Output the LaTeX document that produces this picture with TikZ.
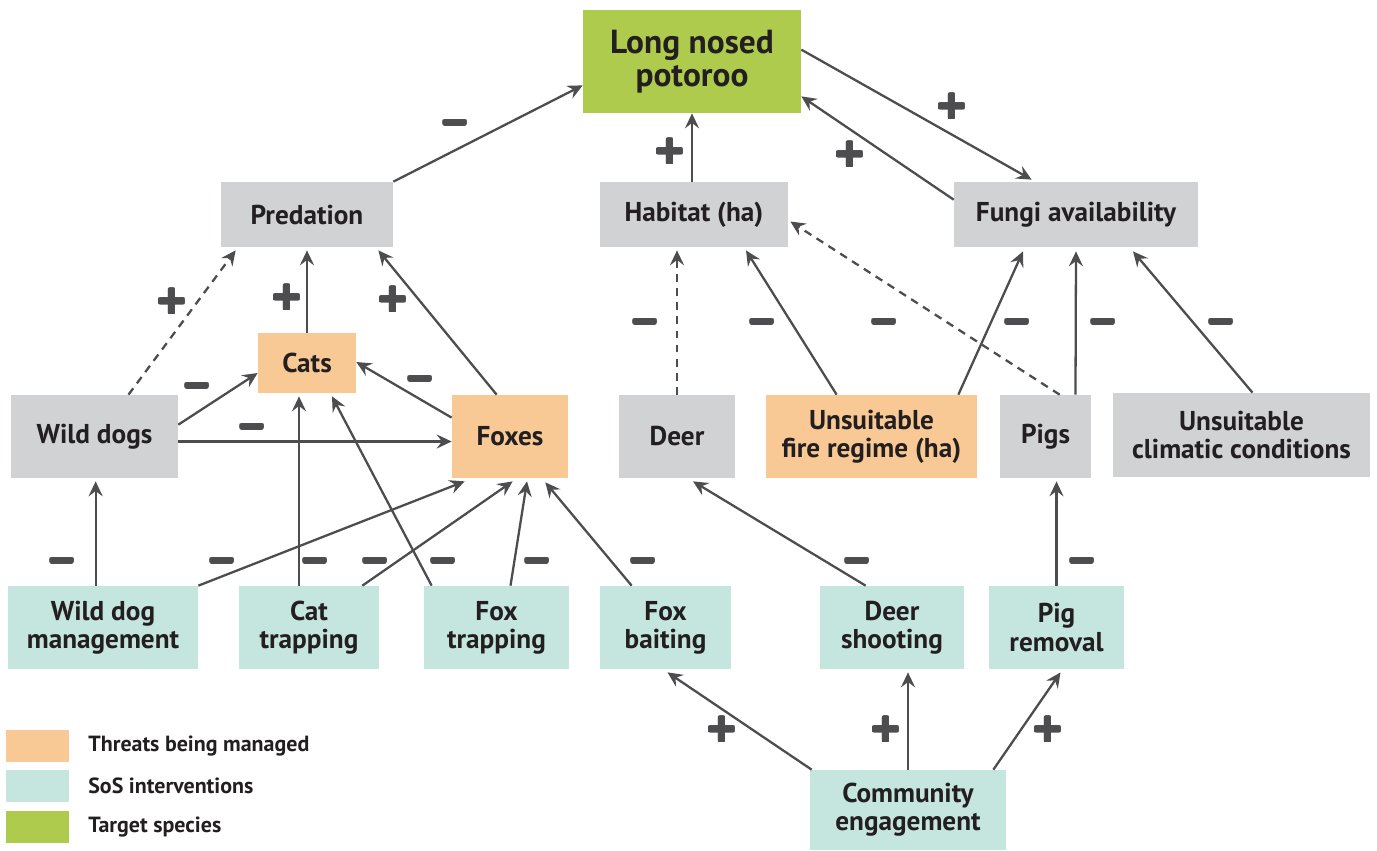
\documentclass[tikz,border=0pt]{standalone}
\usepackage{fontspec}
\usepackage[copies]{contour}
\setmainfont{PT Sans}
\newfontfamily\signfont{DejaVu Sans}
\contourlength{0.65pt}
\contournumber{24}
\usetikzlibrary{arrows.meta,calc}
\definecolor{cTarget}{HTML}{AFCB4E}
\definecolor{cFactor}{HTML}{D1D2D4}
\definecolor{cThreat}{HTML}{F8C994}
\definecolor{cSos}{HTML}{C5E5DF}
\definecolor{cLine}{HTML}{4D4D4F}
\definecolor{cText}{HTML}{231F20}
\newcommand{\sgn}[1]{\contour{cLine}{#1}}
\begin{document}
\begin{tikzpicture}[x=0.02cm, y=-0.02cm,
  wh/.style 2 args = {minimum width=#1*0.02cm, minimum height=#2*0.02cm},
  box/.style = {inner sep=0pt, align=center, text=cText, font=\bfseries\fontsize{15.5}{16}\selectfont},
  factor/.style = {box, fill=cFactor},
  threat/.style = {box, fill=cThreat},
  sos/.style = {box, fill=cSos},
  target/.style = {box, fill=cTarget, font=\bfseries\fontsize{19}{19}\selectfont},
  link/.style = {draw=cLine, line width=1.3pt, -{Stealth[length=8.5pt,width=8pt,inset=3pt]}},
  ldash/.style = {dash pattern=on 4.5pt off 3.5pt},
  signp/.style = {text=cLine, font=\signfont\bfseries\fontsize{22}{22}\selectfont},
  signm/.style = {text=cLine, yshift=-3.2pt, font=\signfont\bfseries\fontsize{19}{19}\selectfont},
  legtext/.style = {anchor=west, inner sep=0pt, text=cText, font=\bfseries\fontsize{12.5}{14}\selectfont}]
\useasboundingbox (0,0) rectangle (1377,850);
% boxes
\node[target, wh={218}{103}] (lnp) at (692,61.5) {Long nosed\\potoroo};
\node[factor, wh={172}{65}] (pred) at (307,214.5) {Predation};
\node[factor, wh={188}{65}] (hab) at (694,214.5) {Habitat (ha)};
\node[factor, wh={244}{65}] (fungi) at (1076,214.5) {Fungi availability};
\node[threat, wh={98}{60}] (cats) at (307,363) {Cats};
\node[factor, wh={167}{83}] (wdogs) at (94.5,436.5) {Wild dogs};
\node[threat, wh={116}{83}] (foxes) at (510,436.5) {Foxes};
\node[factor, wh={116}{83}] (deer) at (677,436.5) {Deer};
\node[threat, wh={211}{83}] (fire) at (871.5,436.5) {Unsuitable\\fire regime (ha)};
\node[factor, wh={91}{83}] (pigs) at (1045.5,436.5) {Pigs};
\node[factor, wh={257}{84}] (clim) at (1241.5,435) {Unsuitable\\climatic conditions};
\node[sos, wh={190}{83}] (wdm) at (103,627.5) {Wild dog\\management};
\node[sos, wh={140}{83}] (cattr) at (309,627.5) {Cat\\trapping};
\node[sos, wh={145}{83}] (foxtr) at (496.5,627.5) {Fox\\trapping};
\node[sos, wh={131}{83}] (foxbt) at (665.5,627.5) {Fox\\baiting};
\node[sos, wh={144}{83}] (deersh) at (892,627.5) {Deer\\shooting};
\node[sos, wh={135}{83}] (pigrm) at (1056.5,627.5) {Pig\\removal};
\node[sos, wh={196}{80}] (comm) at (908,810) {Community\\engagement};
% top links
\draw[link] (pred.north east) -- ($(lnp.south west)+(0,-28)$);
\draw[link] (hab.north -| lnp.south) -- (lnp.south);
\draw[link] ($(lnp.north east)+(0,40)$) -- ($(fungi.north west)+(78,-2)$);
\draw[link] ($(fungi.north west)+(0,18)$) -- ($(lnp.south east)+(0,-17)$);
% predation links
\draw[link, ldash] ($(wdogs.north)+(34,0)$) -- ($(pred.south west)+(15,3)$);
\draw[link] (cats.north) -- ($(pred.south)+(0,3)$);
\draw[link] ($(foxes.north west)+(45,0)$) -- ($(pred.south east)+(-15,3)$);
\draw[link] ($(wdogs.north east)+(0,30)$) -- ($(cats.west)+(0,10)$);
\draw[link] ($(wdogs.east)+(0,5)$) -- ($(foxes.west)+(0,5)$);
\draw[link] ($(foxes.north west)+(0,23)$) -- ($(cats.east)+(0,-1)$);
% interventions on predators
\draw[link] ($(wdm.north west)+(88,0)$) -- ($(wdogs.south west)+(85,3)$);
\draw[link] (wdm.north east) -- ($(foxes.south west)+(13,3)$);
\draw[link] ($(cattr.north)+(-10,0)$) -- ($(cats.south)+(-8,3)$);
\draw[link] ($(cattr.north east)+(-17,0)$) -- ($(foxes.south west)+(61,3)$);
\draw[link] ($(foxtr.north west)+(8,0)$) -- ($(cats.south)+(25,3)$);
\draw[link] ($(foxtr.north)+(14,0)$) -- ($(foxes.south)+(17,3)$);
\draw[link] ($(foxbt.north west)+(32,0)$) -- ($(foxes.south east)+(-23,4)$);
% habitat and fungi links
\draw[link, ldash] (deer.north) -- ($(hab.south)+(-17,3)$);
\draw[link] ($(fire.north west)+(71,0)$) -- ($(hab.south)+(52,3)$);
\draw[link, ldash] ($(pigs.north west)+(60,0)$) -- ($(hab.east)+(2,7)$);
\draw[link] ($(fire.north east)+(-19,0)$) -- ($(fungi.south)+(-53,4)$);
\draw[link] ($(pigs.north)+(30,0)$) -- ($(fungi.south)+(0,4)$);
\draw[link] ($(clim.north)+(11,0)$) -- ($(fungi.south)+(57,4)$);
\draw[link] ($(deersh.north west)+(46,0)$) -- ($(deer.south)+(16,3)$);
\draw[link] (pigrm.north) -- ($(pigrm.north |- pigs.south)+(0,3)$);
% community links
\draw[link] ($(comm.north west)+(2,0)$) -- ($(foxbt.south)+(2,3)$);
\draw[link] (comm.north) -- ($(comm.north |- deersh.south)+(0,3)$);
\draw[link] ($(comm.north east)+(-13,0)$) -- ($(pigrm.south)+(4,3)$);
% signs
\node[signm] (s1) at (455,122) {\sgn{−}};
\node[signp] (s2) at (670,152) {\sgn{+}};
\node[signp] (s3) at (952,107) {\sgn{+}};
\node[signp] (s4) at (850,155) {\sgn{+}};
\node[signp] (s5) at (172,302) {\sgn{+}};
\node[signp] (s6) at (287,298) {\sgn{+}};
\node[signp] (s7) at (393,300) {\sgn{+}};
\node[signm] (s8) at (197,385) {\sgn{−}};
\node[signm] (s9) at (252,426) {\sgn{−}};
\node[signm] (s10) at (420,378) {\sgn{−}};
\foreach \x in {62,222,315,375,443,537,643,857,1082}
  \node[signm] at (\x,560) {\sgn{−}};
\foreach \x in {645,762,884,1017,1103,1221}
  \node[signm] at (\x,321) {\sgn{−}};
\foreach \x in {722,886,1048}
  \node[signp] at (\x,730) {\sgn{+}};
% legend
\node[fill=cThreat, wh={63}{32}, inner sep=0pt] (leg1) at (37.5,746) {};
\node[fill=cSos, wh={63}{32}, inner sep=0pt] (leg2) at (37.5,786) {};
\node[fill=cTarget, wh={63}{32}, inner sep=0pt] (leg3) at (37.5,827) {};
\node[legtext] at (88,746) {Threats being managed};
\node[legtext] at (88,786) {SoS interventions};
\node[legtext] at (88,827) {Target species};
\end{tikzpicture}
\end{document}
